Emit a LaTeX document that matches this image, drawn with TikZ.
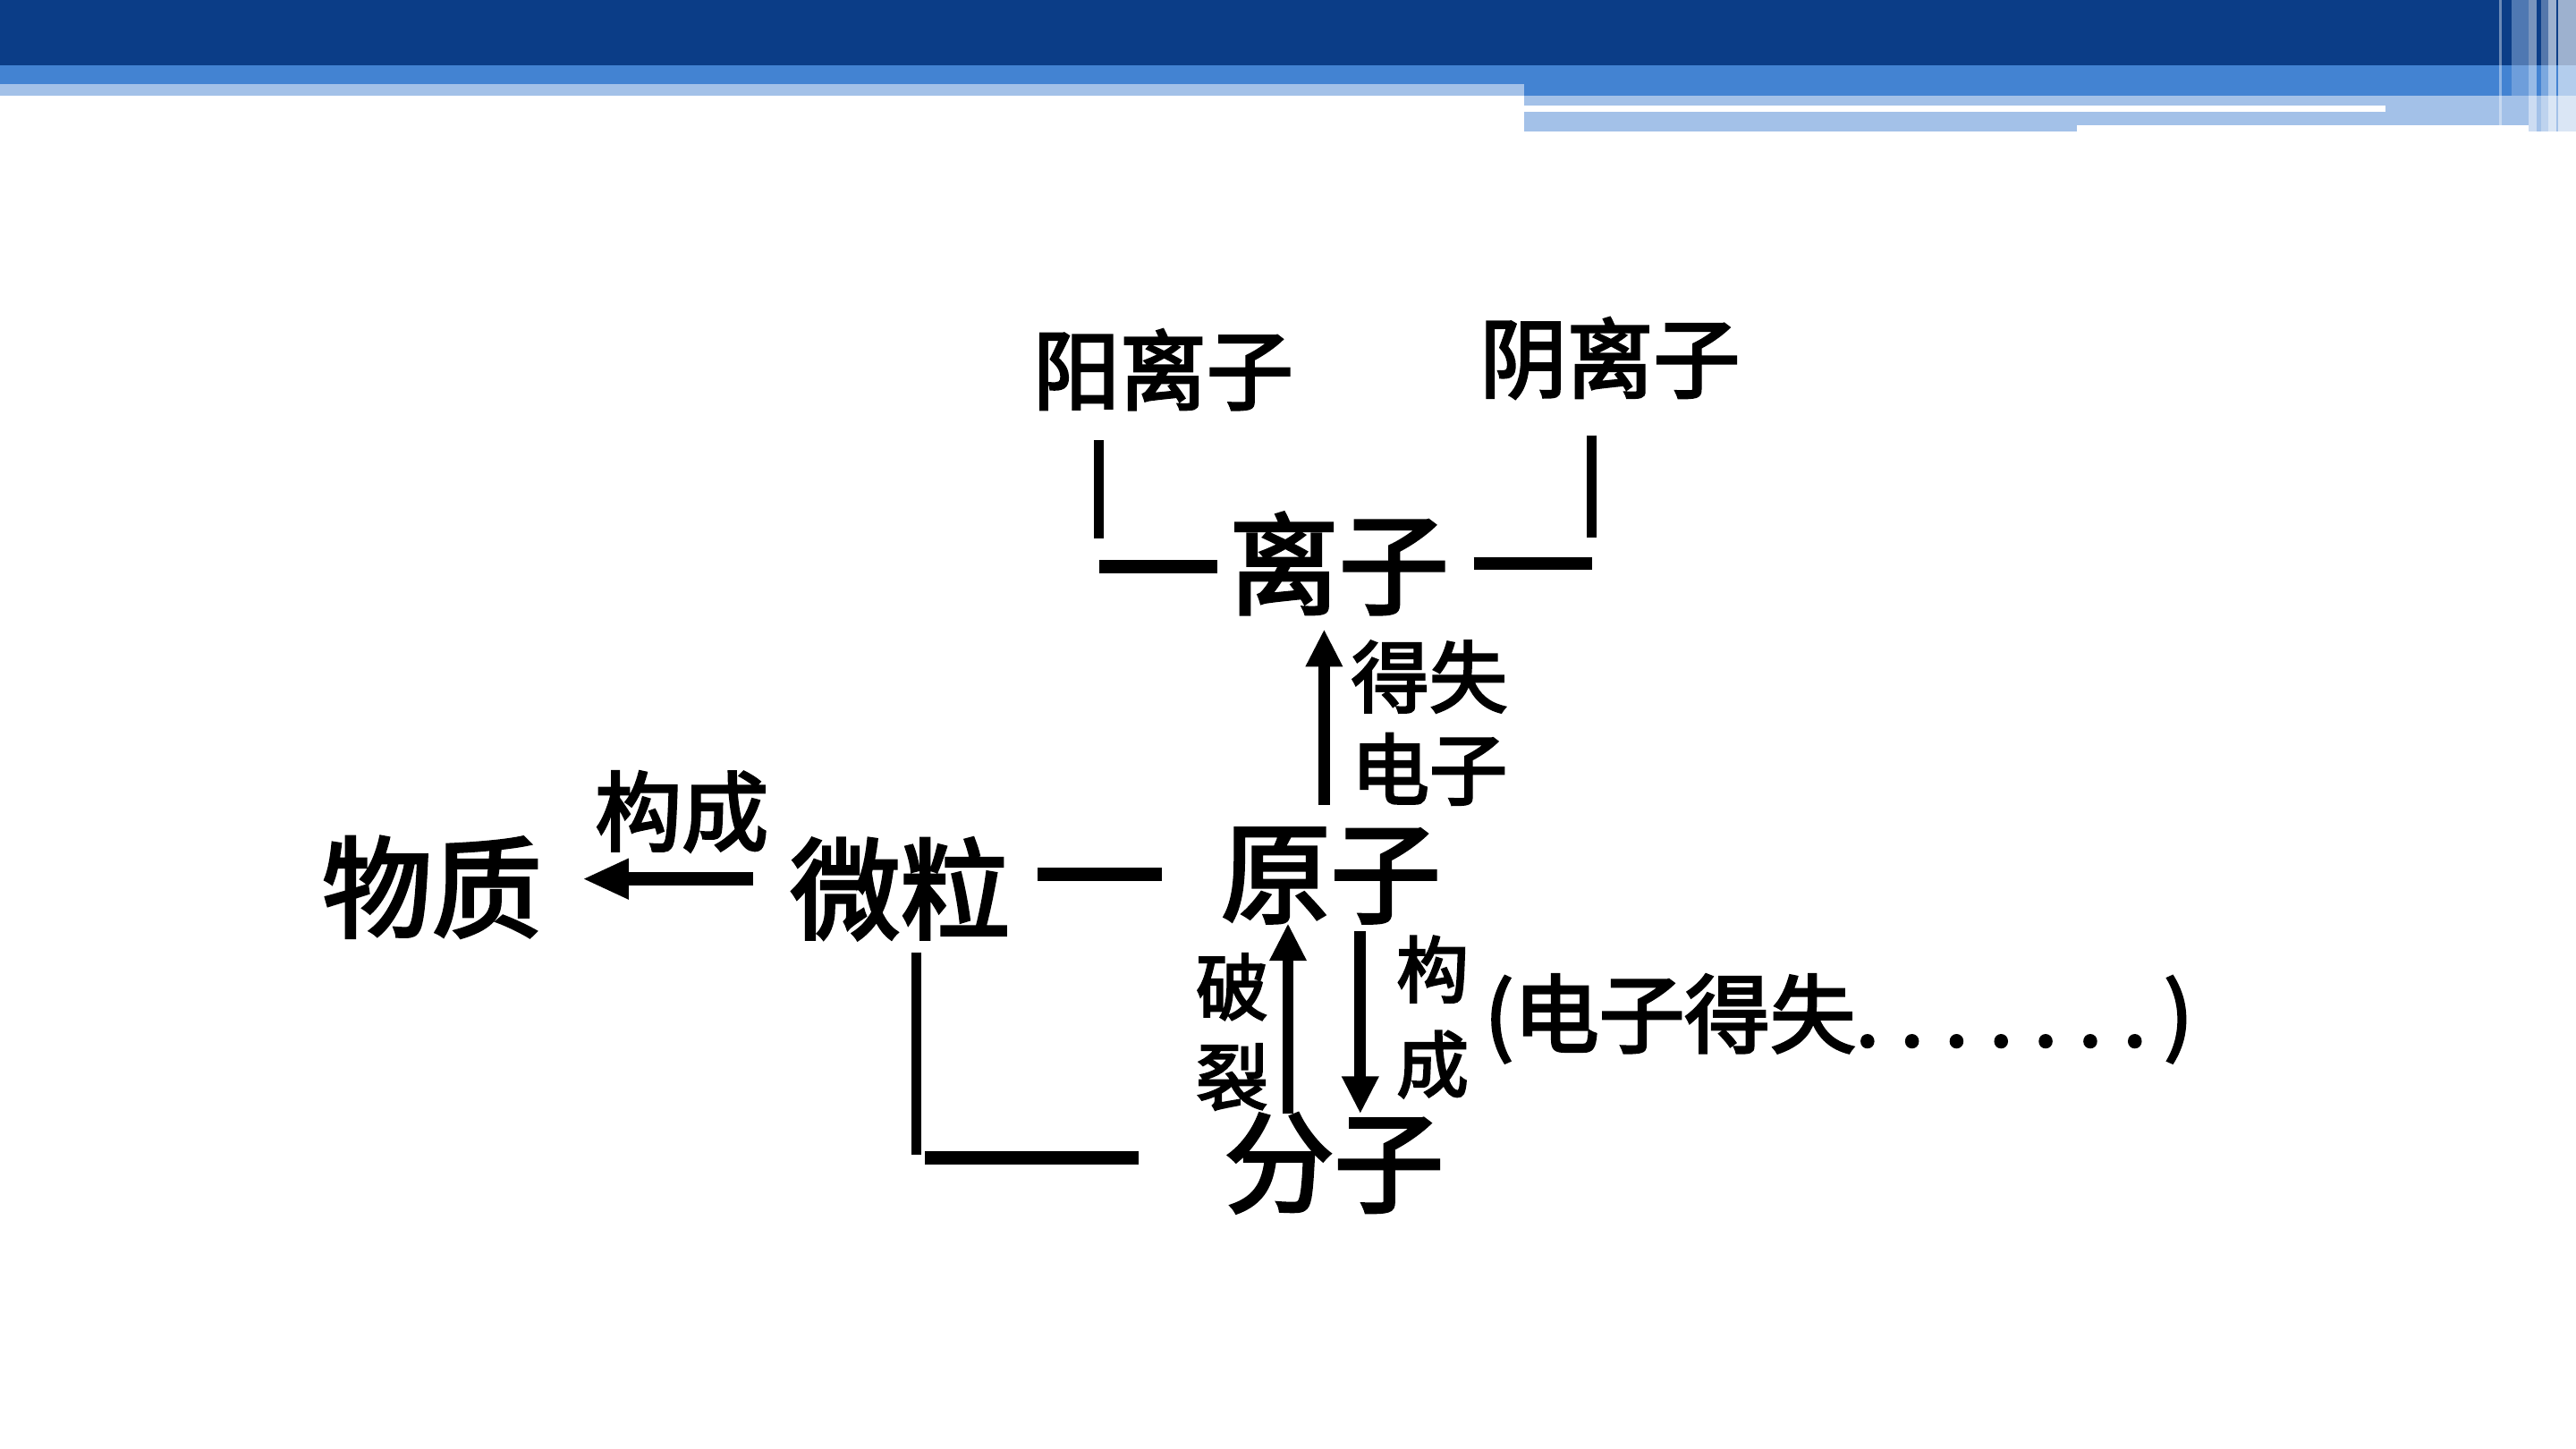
\documentclass[tikz,border=0pt]{standalone}
\usepackage{fontspec}
\setmainfont{Noto Sans CJK SC}[BoldFont={Noto Sans CJK SC},BoldFeatures={FakeBold=3}]
\usetikzlibrary{arrows.meta,positioning,calc}
\definecolor{hdark}{HTML}{0B3D87}
\definecolor{hmid}{HTML}{4383D2}
\definecolor{hlight}{HTML}{A3C1E8}

\tikzset{
  big/.style={inner sep=0pt,font=\fontsize{19}{19}\selectfont\bfseries},
  mid/.style={inner sep=0pt,font=\fontsize{15}{15}\selectfont\bfseries},
  lab/.style={inner sep=0pt,align=center},
  ln/.style={line width=1.7pt},
  bar/.style={line width=2.3pt},
  arr/.style={line width=2pt,-{Triangle[length=6.5pt,width=6pt]}},
}

\begin{document}
\begin{tikzpicture}[x=0.01cm,y=-0.01cm]
  \useasboundingbox (0,0) rectangle (1568,882);
  \fill[white] (0,0) rectangle (1568,882);
  % header bars
  \fill[hmid] (0,40) rectangle (928,51);
  \fill[hlight] (0,51) rectangle (928,58);
  \fill[hmid] (928,40) rectangle (1568,58);
  \fill[hlight] (928,58) rectangle (1568,80);
  \fill[white] (928,64) rectangle (1452,68);
  \fill[white] (1264,76) rectangle (1539,80);
  \fill[hdark] (0,0) rectangle (1568,40);
  \fill[white,opacity=.4] (1521,0) rectangle (1523,76);
  \fill[hlight,opacity=.45] (1529,0) rectangle (1539,76);
  \fill[white,opacity=.45] (1539,0) rectangle (1544,80);
  \fill[white,opacity=.3] (1547,0) rectangle (1551,80);
  \fill[white,opacity=.6] (1551,0) rectangle (1556,80);
  \fill[white,opacity=.6] (1557,0) rectangle (1568,80);

  % words
  \node[mid] (cat) at (708,225) {阳离子};
  \node[mid] (ani) at (980,218) {阴离子};
  \node[big] (ion) at (815,343) {离子};
  \node[big] (mat) at (263,540) {物质};
  \node[big] (par) at (548,541) {微粒};
  \node[big] (atom) at (810,533) {原子};
  \node[big] (mol) at (812,708) {分子};
  \node[lab,font=\fontsize{15}{15}\selectfont\bfseries] (form) at (415,494) {构成};
  \node[lab,font=\fontsize{13.5}{16}\selectfont\bfseries] (gain) at (870,440) {得失\\电子};
  \node[lab,font=\fontsize{12.5}{15.6}\selectfont\bfseries] (split) at (750,628) {破\\裂};
  \node[lab,font=\fontsize{12.5}{16.4}\selectfont\bfseries] (build) at (872,619) {构\\成};
  \node[lab,anchor=west,font=\fontsize{14.8}{15}\selectfont\bfseries] (note) at (903,620)
    {(电子得失.\hspace{3.6pt}.\hspace{3.6pt}.\hspace{3.6pt}.\hspace{3.6pt}.\hspace{3.6pt}.\hspace{3.6pt}.\hspace{3pt})};

  % brackets round the ion
  \draw[ln] ($(cat.center)+(-39,43)$) -- ($(ion.center)+(-146,-15)$);
  \draw[bar] ($(ion.center)+(-146,2)$) -- ($(ion.center)+(-74,2)$);
  \draw[ln] ($(ani.center)+(-11,47)$) -- ($(ion.center)+(154,-16)$);
  \draw[bar] ($(ion.center)+(82,0)$) -- ($(ion.center)+(154,0)$);

  % links
  \draw[arr,line width=2.4pt,-{Triangle[length=8pt,width=6.5pt]}] ($(par.west)+(-22,-6)$) -- ($(mat.east)+(24,-5)$);
  \draw[bar] ($(par.east)+(16,-9)$) -- ($(atom.west)+(-35,-1)$);
  \draw[arr] ($(atom.center)+(-4,-43)$) -- ($(ion.center)+(-9,40)$);
  \draw[arr] ($(mol.center)+(-28,-30)$) -- ($(atom.center)+(-26,29)$);
  \draw[arr] ($(atom.center)+(18,34)$) -- ($(mol.center)+(16,-30)$);
  \draw[ln] ($(par.center)+(10,39)$) -- ($(par.center)+(10,162)$);
  \draw[bar] ($(par.center)+(15,164)$) -- ($(mol.center)+(-119,-3)$);
\end{tikzpicture}
\end{document}
